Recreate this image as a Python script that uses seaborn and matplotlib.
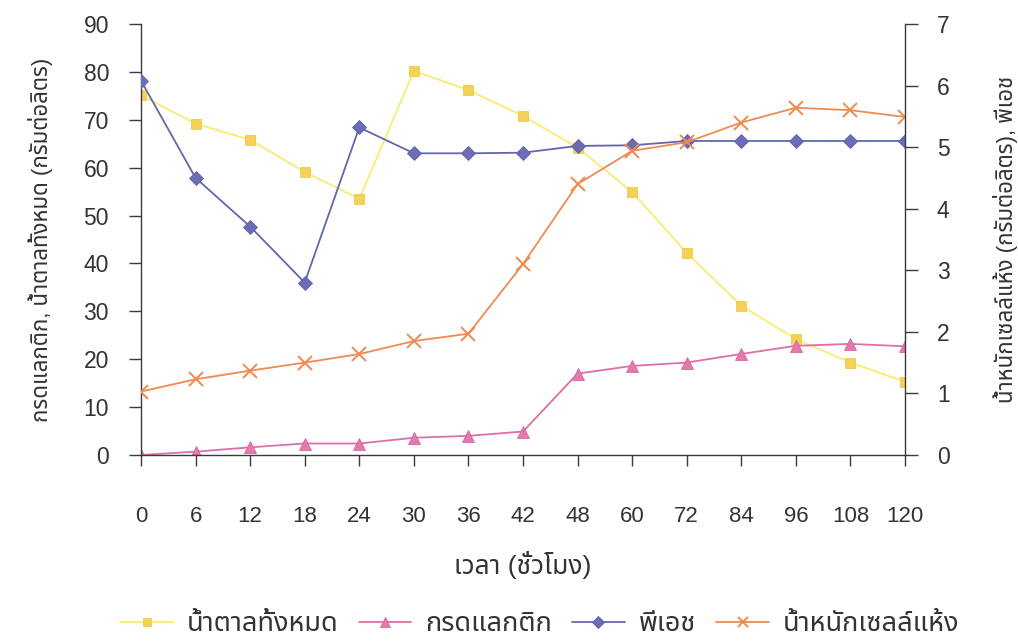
import matplotlib
matplotlib.use("Agg")
import matplotlib.pyplot as plt
from matplotlib import font_manager, ft2font
from matplotlib.lines import Line2D
import seaborn as sns
import pandas as pd

# Fermentation time points (hours)
hours = [0, 6, 12, 18, 24, 30, 36, 42, 48, 60, 72, 84, 96, 108, 120]

# Left axis (g/L)
total_sugar = [75.1, 69.2, 65.8, 59.1, 53.5, 80.2, 76.2, 70.8, 64.2, 54.9,
               42.2, 31.2, 24.2, 19.3, 15.3]
lactic_acid = [0.0, 0.7, 1.6, 2.4, 2.4, 3.6, 4.0, 4.9, 17.0, 18.6,
               19.3, 21.1, 22.8, 23.2, 22.7]

# Right axis (g/L and pH)
ph = [6.08, 4.50, 3.71, 2.80, 5.32, 4.90, 4.90, 4.91, 5.02, 5.03,
      5.10, 5.10, 5.10, 5.10, 5.10]
dry_cell_weight = [1.03, 1.23, 1.37, 1.50, 1.64, 1.85, 1.97, 3.10, 4.40, 4.94,
                   5.08, 5.40, 5.64, 5.60, 5.49]

series_names = ["น้ำตาลทั้งหมด", "กรดแลกติก", "พีเอช", "น้ำหนักเซลล์แห้ง"]
left_label = "กรดแลกติก, น้ำตาลทั้งหมด (กรัมต่อลิตร)"
right_label = "น้ำหนักเซลล์แห้ง (กรัมต่อลิตร), พีเอช"
x_label = "เวลา (ชั่วโมง)"


def find_thai_family():
    """Return the name of an installed font family that has Thai glyphs."""
    found = []
    for f in font_manager.fontManager.ttflist:
        try:
            cmap = ft2font.FT2Font(f.fname).get_charmap()
        except Exception:
            continue
        if 0x0E01 in cmap and 0x0E33 in cmap and 0x0E49 in cmap:
            found.append(f.name)
    if not found:
        return None
    for pref in ("Noto Sans Thai", "Loma", "Garuda", "Sarabun", "Kinnari"):
        if pref in found:
            return pref
    return found[0]


sns.set_theme(style="white")
thai = find_thai_family()
families = ["Liberation Sans"] + ([thai] if thai else []) + ["DejaVu Sans"]
plt.rcParams["font.family"] = families

axis_col = "#3a3a3a"
text_col = "#333333"

pos = list(range(len(hours)))
df = pd.DataFrame({
    "pos": pos,
    "sugar": total_sugar,
    "lactic": lactic_acid,
    "ph": ph,
    "dcw": dry_cell_weight,
})

fig = plt.figure(figsize=(10.18, 6.41), dpi=100)
ax = fig.add_axes([141 / 1018, 1 - 455 / 641, (905 - 141) / 1018, (455 - 24) / 641])
ax2 = ax.twinx()

styles = {
    "sugar": dict(color="#F8EC70", marker="s", mfc="#F3D257", mec="#EFC94A", ms=7),
    "lactic": dict(color="#DE6FA6", marker="^", mfc="#E27AB0", mec="#D9669F", ms=9),
    "ph": dict(color="#6366AD", marker="D", mfc="#6A6DB6", mec="#5E61A8", ms=7.5),
    "dcw": dict(color="#F08A50", marker="x", mfc="#F08A50", mec="#F08A50", ms=10, mew=1.4),
}

def draw(axis, col):
    st = styles[col]
    sns.lineplot(data=df, x="pos", y=col, ax=axis, color=st["color"], lw=1.3,
                 marker=st["marker"], markersize=st["ms"],
                 markerfacecolor=st["mfc"], markeredgecolor=st["mec"],
                 markeredgewidth=st.get("mew", 0.6), legend=False)

draw(ax, "sugar")
draw(ax, "lactic")
draw(ax2, "ph")
draw(ax2, "dcw")

for a in (ax, ax2):
    a.set_xlim(0, len(hours) - 1)
    a.set_xlabel("")
    a.set_ylabel("")
    a.grid(False)
    a.spines["top"].set_visible(False)
    for s in a.spines.values():
        s.set_color(axis_col)
        s.set_linewidth(1.0)
    a.set_facecolor("none")

ax.set_ylim(0, 90)
ax.set_yticks(range(0, 91, 10))
ax2.set_ylim(0, 7)
ax2.set_yticks(range(0, 8))
ax.spines["right"].set_visible(False)
ax2.spines["left"].set_visible(False)
ax2.spines["bottom"].set_visible(False)

ax.set_xticks(pos)
ax.set_xticklabels([str(h) for h in hours])
ax.tick_params(axis="x", direction="out", length=8, width=1.0, color=axis_col,
               pad=29, labelsize=16, labelcolor=text_col, bottom=True)
ax.tick_params(axis="y", direction="out", length=9, width=1.0, color=axis_col,
               pad=14, labelsize=16.5, labelcolor=text_col, left=True)
ax2.tick_params(axis="y", direction="out", length=9, width=1.0, color=axis_col,
                pad=14, labelsize=16.5, labelcolor=text_col, right=True)

ax.set_xlabel(x_label, fontsize=19, color=text_col, labelpad=17)
ax.set_ylabel(left_label, fontsize=16, color=text_col, labelpad=22)
ax2.set_ylabel(right_label, fontsize=16, color=text_col, labelpad=31)

handles = []
for col, name in zip(["sugar", "lactic", "ph", "dcw"], series_names):
    st = styles[col]
    handles.append(Line2D([], [], color=st["color"], lw=1.3, marker=st["marker"],
                          markersize=st["ms"] * 0.75, markerfacecolor=st["mfc"],
                          markeredgecolor=st["mec"], markeredgewidth=st.get("mew", 0.6),
                          label=name))
fig.legend(handles=handles, loc="center", bbox_to_anchor=(0.53, 1 - 624 / 641),
           ncol=4, frameon=False, fontsize=19.5, handlelength=1.95,
           columnspacing=0.75, handletextpad=0.5, labelcolor=text_col,
           borderpad=0.2)

fig.savefig("out.png", dpi=100, facecolor="white")
